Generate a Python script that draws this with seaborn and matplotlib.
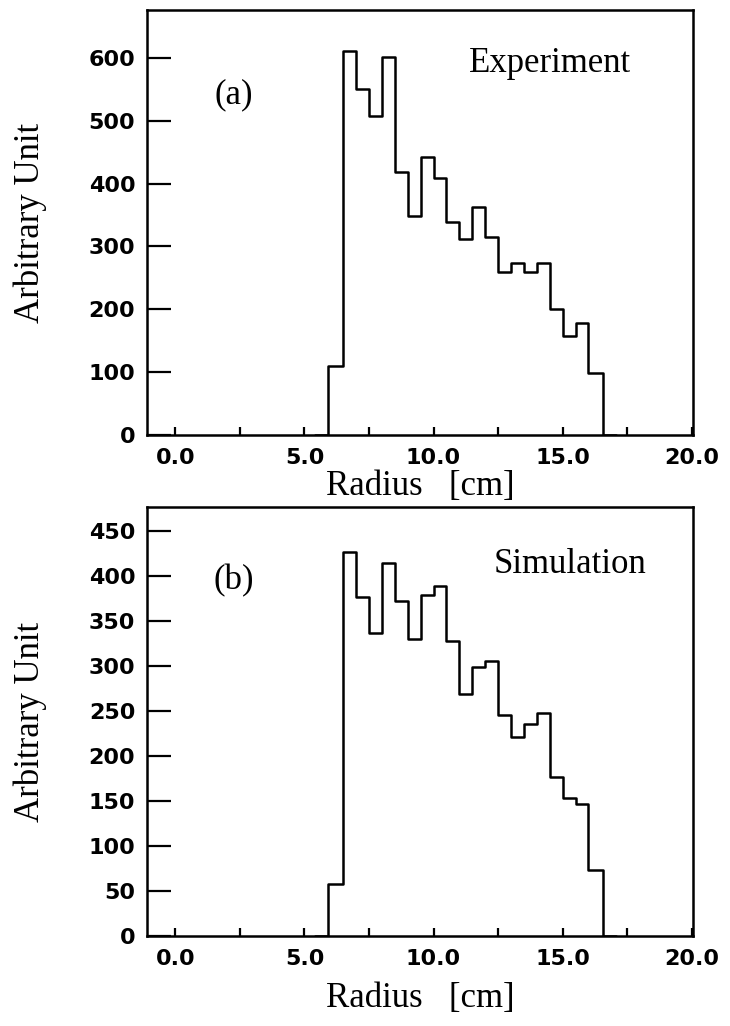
import matplotlib
matplotlib.use("Agg")
import matplotlib.pyplot as plt
import seaborn as sns
import numpy as np

# ---- data ----
bin_edges = [5.9, 6.5, 7.0, 7.5, 8.0, 8.5, 9.0, 9.5, 10.0, 10.5, 11.0,
             11.5, 12.0, 12.5, 13.0, 13.5, 14.0, 14.5, 15.0, 15.5, 16.0, 16.55]
experiment = [110, 611, 550, 508, 602, 418, 348, 442, 409, 339, 312,
              362, 315, 259, 273, 259, 273, 200, 158, 178, 98]
simulation = [58, 427, 376, 337, 414, 372, 330, 379, 389, 328, 269,
              299, 306, 245, 221, 235, 248, 177, 153, 147, 73]
x_major = [0, 5, 10, 15, 20]
x_minor = [2.5, 7.5, 12.5, 17.5]
x_ticklabels = ["0.0", "5.0", "10.0", "15.0", "20.0"]
y_ticks_a = [0, 100, 200, 300, 400, 500, 600]
y_ticks_b = [0, 50, 100, 150, 200, 250, 300, 350, 400, 450]

sns.set_theme(style="ticks")
plt.rcParams["font.family"] = ["Liberation Serif", "DejaVu Serif"]
for k in ["text.color", "axes.labelcolor", "xtick.color", "ytick.color",
          "axes.edgecolor"]:
    plt.rcParams[k] = "black"

W, H = 730, 1026
fig = plt.figure(figsize=(W / 100, H / 100), dpi=100)
ax1 = fig.add_axes([147 / W, 1 - 435 / H, 546 / W, 425 / H])
ax2 = fig.add_axes([147 / W, 1 - 936 / H, 546 / W, 429 / H])

tick_font = dict(family="DejaVu Sans", weight="bold", size=16, color="black")


def draw(ax, values, yticks, ymax, tag, title, tag_pos, title_pos, xlab_y):
    edges = [bin_edges[0] - 0.5] + list(bin_edges) + [bin_edges[-1] + 0.5]
    weights = [0] + list(values) + [0]
    centers = [(a + b) / 2 for a, b in zip(edges[:-1], edges[1:])]
    sns.histplot(x=centers, weights=weights, bins=edges, element="step",
                 fill=False, color="black", linewidth=1.8, ax=ax)
    ax.set_xlim(-1.1, 20.05)
    ax.set_ylim(0, ymax)
    ax.set_xticks(x_major)
    ax.set_xticks(x_minor, minor=True)
    ax.set_xticklabels(x_ticklabels, fontdict=tick_font)
    ax.set_yticks(yticks)
    ax.set_yticklabels([str(v) for v in yticks], fontdict=tick_font)
    ax.tick_params(axis="y", direction="in", length=17, width=1.6, pad=8.5,
                   right=False, colors="black")
    ax.tick_params(axis="x", which="both", direction="in", length=6,
                   width=1.6, pad=9.5, top=False, colors="black")
    for s in ax.spines.values():
        s.set_visible(True)
        s.set_linewidth(1.8)
        s.set_color("black")
    ax.set_ylabel("Arbitrary Unit", fontsize=25, va="center", color="black")
    ax.yaxis.set_label_coords(-0.214, 0.5)
    ax.set_xlabel("Radius   [cm]", fontsize=25, va="center", color="black")
    ax.xaxis.set_label_coords(0.5, xlab_y)
    ax.text(tag_pos[0], tag_pos[1], tag, transform=ax.transAxes,
            fontsize=25, ha="center", va="center", color="black")
    ax.text(title_pos[0], title_pos[1], title, transform=ax.transAxes,
            fontsize=25, ha="center", va="center", color="black")
    ax.grid(False)


draw(ax1, experiment, y_ticks_a, 676, "(a)", "Experiment",
     (0.158, 0.800), (0.738, 0.873), -0.12)
draw(ax2, simulation, y_ticks_b, 476.5, "(b)", "Simulation",
     (0.159, 0.828), (0.775, 0.865), -0.145)

fig.savefig("out.png", dpi=100, facecolor="white")
